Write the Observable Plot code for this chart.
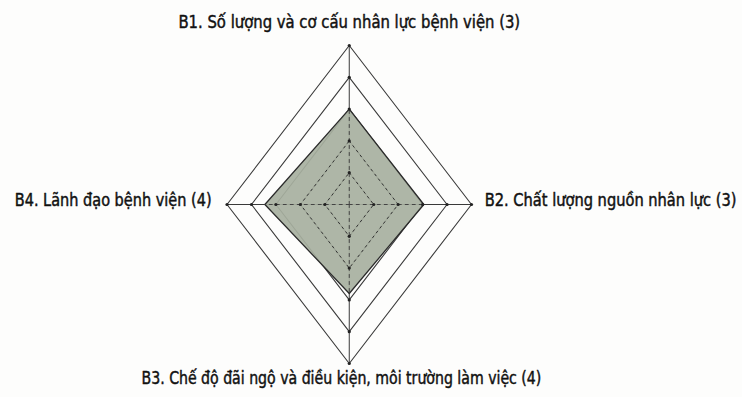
<!DOCTYPE html>
<html>
<head>
<meta charset="utf-8">
<script src="https://cdn.jsdelivr.net/npm/d3@7"></script>
<script src="https://cdn.jsdelivr.net/npm/@observablehq/plot@0.6"></script>
<style>
  html, body { margin: 0; padding: 0; background: #fdfdfc; }
  #chart svg { display: block; }
</style>
</head>
<body>
<div id="chart"></div>
<script>
// Axis labels (clockwise from top)
const axisLabels = [
  "B1. Số lượng và cơ cấu nhân lực bệnh viện (3)",
  "B2. Chất lượng nguồn nhân lực (3)",
  "B3. Chế độ đãi ngộ và điều kiện, môi trường làm việc (4)",
  "B4. Lãnh đạo bệnh viện (4)"
];
// Series values
const seriesValues = [3.0, 3.05, 2.8, 3.45];
// Grid ring levels
const ringLevels = [1, 2, 3, 4, 5];
const maxLevel = 5;

// Directions of the axes: up, right, down, left
const dirs = [[0, 1], [1, 0], [0, -1], [-1, 0]];

const ringPts = ringLevels.flatMap(level =>
  [0, 1, 2, 3, 0].map((i, k) => ({ level, order: k, x: dirs[i][0] * level, y: dirs[i][1] * level }))
);
const spokes = dirs.flatMap((d, i) => [
  { axis: i, x: 0, y: 0 },
  { axis: i, x: d[0] * maxLevel, y: d[1] * maxLevel }
]);
const innerSpokes = dirs.flatMap((d, i) => [
  { axis: i, x: 0, y: 0 },
  { axis: i, x: d[0] * seriesValues[i], y: d[1] * seriesValues[i] }
]);
const series = [0, 1, 2, 3, 0].map(i => ({ x: dirs[i][0] * seriesValues[i], y: dirs[i][1] * seriesValues[i] }));
const tickDots = ringLevels.flatMap(level => dirs.map(d => ({ x: d[0] * level, y: d[1] * level })));
const labels = axisLabels.map((t, i) => ({ t, i, x: dirs[i][0] * maxLevel, y: dirs[i][1] * maxLevel }));

const font = '"Liberation Sans Narrow", "Arial Narrow", "DejaVu Sans Condensed", "Liberation Sans", sans-serif';
const textStyle = { fontSize: 18, fill: "#111", stroke: "#111", strokeWidth: 0.45, fontWeight: 500 };

const chart = Plot.plot({
  width: 742,
  height: 397,
  margin: 0,
  x: { domain: [-maxLevel, maxLevel], range: [226.5, 471], axis: null },
  y: { domain: [-maxLevel, maxLevel], range: [363, 45], axis: null },
  style: { background: "#fdfdfc", fontFamily: font },
  marks: [
    Plot.line(spokes, { x: "x", y: "y", z: "axis", stroke: "#3a3a3a", strokeWidth: 1 }),
    Plot.line(ringPts, { x: "x", y: "y", z: "level", stroke: "#3a3a3a", strokeWidth: 1.1 }),
    Plot.line(series, { x: "x", y: "y", fill: "#a7b0a0", fillOpacity: 0.92, stroke: "#2b2b2b", strokeWidth: 1.3 }),
    Plot.line(ringPts.filter(d => d.level <= 2), {
      x: "x", y: "y", z: "level", stroke: "#333", strokeWidth: 1, strokeDasharray: "2,4"
    }),
    Plot.line(innerSpokes, { x: "x", y: "y", z: "axis", stroke: "#444", strokeWidth: 1, strokeDasharray: "3,4" }),
    Plot.dot(tickDots, { x: "x", y: "y", r: 1.6, fill: "#222", stroke: null }),
    Plot.text(labels.filter(d => d.i === 0), { x: "x", y: "y", text: "t", dy: -23, textAnchor: "middle", ...textStyle }),
    Plot.text(labels.filter(d => d.i === 1), { x: "x", y: "y", text: "t", dx: 12, dy: -4, textAnchor: "start", ...textStyle }),
    Plot.text(labels.filter(d => d.i === 2), { x: "x", y: "y", text: "t", dx: -7, dy: 15, textAnchor: "middle", ...textStyle }),
    Plot.text(labels.filter(d => d.i === 3), { x: "x", y: "y", text: "t", dx: -14, dy: -4, textAnchor: "end", ...textStyle })
  ]
});
document.getElementById("chart").appendChild(chart);

// Condense label lettering horizontally to the reference's narrow type
const targetWidths = [342, 252, 400, 197];
const anchors = ["middle", "start", "middle", "end"];
const svgNS = "http://www.w3.org/2000/svg";
const svgRect = chart.getBoundingClientRect();
chart.querySelectorAll("g[aria-label='text'] text").forEach((el, k) => {
  const w = targetWidths[k];
  if (!w) return;
  const r = el.getBoundingClientRect();
  const left = r.left - svgRect.left;
  const sx = w / r.width;
  const ax = anchors[k] === "start" ? left : anchors[k] === "end" ? left + r.width : left + r.width / 2;
  const g = document.createElementNS(svgNS, "g");
  el.parentNode.insertBefore(g, el);
  g.appendChild(el);
  g.setAttribute("transform", `translate(${ax},0) scale(${sx},1) translate(${-ax},0)`);
});
</script>
</body>
</html>
